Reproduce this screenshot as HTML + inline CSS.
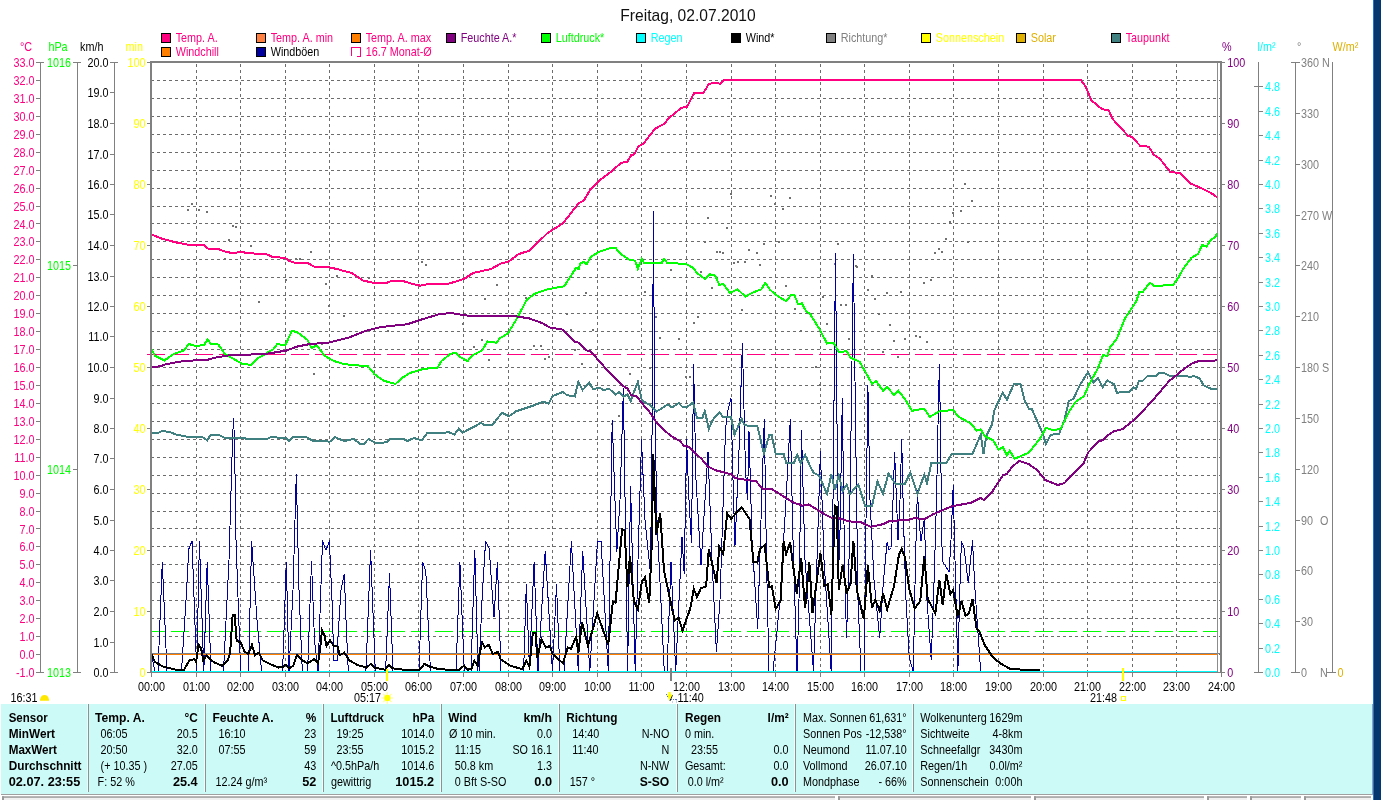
<!DOCTYPE html>
<html><head><meta charset="utf-8"><title>Freitag, 02.07.2010</title>
<style>
html,body{margin:0;padding:0;background:#fff;}
body{width:1381px;height:800px;overflow:hidden;position:relative;font-family:"Liberation Sans",sans-serif;}
svg{position:absolute;left:0;top:0;font-family:"Liberation Sans",sans-serif;will-change:transform;}
#strip{position:absolute;left:1373px;top:0;width:8px;height:800px;background:linear-gradient(90deg,#1c74d4 0,#1c74d4 1px,#04346a 1px,#04346a 2px,#04376d 2.5px,#04376d 8px);}
</style></head><body>
<svg width="1381" height="800" viewBox="0 0 1381 800">
<rect x="0" y="0" width="1381" height="800" fill="#fff"/>
<g shape-rendering="crispEdges" stroke="#6c6c6c" stroke-width="1" fill="none">
<line x1="151" y1="80.5" x2="1220" y2="80.5" stroke-dasharray="3 3"/>
<line x1="151" y1="98.5" x2="1220" y2="98.5" stroke-dasharray="3 3"/>
<line x1="151" y1="116.5" x2="1220" y2="116.5" stroke-dasharray="3 3"/>
<line x1="151" y1="134.5" x2="1220" y2="134.5" stroke-dasharray="3 3"/>
<line x1="151" y1="152.5" x2="1220" y2="152.5" stroke-dasharray="3 3"/>
<line x1="151" y1="170.5" x2="1220" y2="170.5" stroke-dasharray="3 3"/>
<line x1="151" y1="188.5" x2="1220" y2="188.5" stroke-dasharray="3 3"/>
<line x1="151" y1="206.5" x2="1220" y2="206.5" stroke-dasharray="3 3"/>
<line x1="151" y1="223.5" x2="1220" y2="223.5" stroke-dasharray="3 3"/>
<line x1="151" y1="241.5" x2="1220" y2="241.5" stroke-dasharray="3 3"/>
<line x1="151" y1="259.5" x2="1220" y2="259.5" stroke-dasharray="3 3"/>
<line x1="151" y1="277.5" x2="1220" y2="277.5" stroke-dasharray="3 3"/>
<line x1="151" y1="295.5" x2="1220" y2="295.5" stroke-dasharray="3 3"/>
<line x1="151" y1="313.5" x2="1220" y2="313.5" stroke-dasharray="3 3"/>
<line x1="151" y1="331.5" x2="1220" y2="331.5" stroke-dasharray="3 3"/>
<line x1="151" y1="349.5" x2="1220" y2="349.5" stroke-dasharray="3 3"/>
<line x1="151" y1="367.5" x2="1220" y2="367.5" stroke-dasharray="3 3"/>
<line x1="151" y1="385.5" x2="1220" y2="385.5" stroke-dasharray="3 3"/>
<line x1="151" y1="403.5" x2="1220" y2="403.5" stroke-dasharray="3 3"/>
<line x1="151" y1="421.5" x2="1220" y2="421.5" stroke-dasharray="3 3"/>
<line x1="151" y1="439.5" x2="1220" y2="439.5" stroke-dasharray="3 3"/>
<line x1="151" y1="457.5" x2="1220" y2="457.5" stroke-dasharray="3 3"/>
<line x1="151" y1="475.5" x2="1220" y2="475.5" stroke-dasharray="3 3"/>
<line x1="151" y1="493.5" x2="1220" y2="493.5" stroke-dasharray="3 3"/>
<line x1="151" y1="511.5" x2="1220" y2="511.5" stroke-dasharray="3 3"/>
<line x1="151" y1="528.5" x2="1220" y2="528.5" stroke-dasharray="3 3"/>
<line x1="151" y1="546.5" x2="1220" y2="546.5" stroke-dasharray="3 3"/>
<line x1="151" y1="564.5" x2="1220" y2="564.5" stroke-dasharray="3 3"/>
<line x1="151" y1="582.5" x2="1220" y2="582.5" stroke-dasharray="3 3"/>
<line x1="151" y1="600.5" x2="1220" y2="600.5" stroke-dasharray="3 3"/>
<line x1="151" y1="618.5" x2="1220" y2="618.5" stroke-dasharray="3 3"/>
<line x1="151" y1="636.5" x2="1220" y2="636.5" stroke-dasharray="3 3"/>
<line x1="151" y1="654.5" x2="1220" y2="654.5" stroke-dasharray="3 3"/>
<line x1="196.5" y1="64" x2="196.5" y2="672" stroke-dasharray="3 3"/>
<line x1="240.5" y1="64" x2="240.5" y2="672" stroke-dasharray="3 3"/>
<line x1="285.5" y1="64" x2="285.5" y2="672" stroke-dasharray="3 3"/>
<line x1="329.5" y1="64" x2="329.5" y2="672" stroke-dasharray="3 3"/>
<line x1="374.5" y1="64" x2="374.5" y2="672" stroke-dasharray="3 3"/>
<line x1="418.5" y1="64" x2="418.5" y2="672" stroke-dasharray="3 3"/>
<line x1="463.5" y1="64" x2="463.5" y2="672" stroke-dasharray="3 3"/>
<line x1="508.5" y1="64" x2="508.5" y2="672" stroke-dasharray="3 3"/>
<line x1="552.5" y1="64" x2="552.5" y2="672" stroke-dasharray="3 3"/>
<line x1="597.5" y1="64" x2="597.5" y2="672" stroke-dasharray="3 3"/>
<line x1="641.5" y1="64" x2="641.5" y2="672" stroke-dasharray="3 3"/>
<line x1="686.5" y1="64" x2="686.5" y2="672" stroke-dasharray="3 3"/>
<line x1="731.5" y1="64" x2="731.5" y2="672" stroke-dasharray="3 3"/>
<line x1="775.5" y1="64" x2="775.5" y2="672" stroke-dasharray="3 3"/>
<line x1="820.5" y1="64" x2="820.5" y2="672" stroke-dasharray="3 3"/>
<line x1="864.5" y1="64" x2="864.5" y2="672" stroke-dasharray="3 3"/>
<line x1="909.5" y1="64" x2="909.5" y2="672" stroke-dasharray="3 3"/>
<line x1="953.5" y1="64" x2="953.5" y2="672" stroke-dasharray="3 3"/>
<line x1="998.5" y1="64" x2="998.5" y2="672" stroke-dasharray="3 3"/>
<line x1="1043.5" y1="64" x2="1043.5" y2="672" stroke-dasharray="3 3"/>
<line x1="1087.5" y1="64" x2="1087.5" y2="672" stroke-dasharray="3 3"/>
<line x1="1132.5" y1="64" x2="1132.5" y2="672" stroke-dasharray="3 3"/>
<line x1="1176.5" y1="64" x2="1176.5" y2="672" stroke-dasharray="3 3"/>
</g>
<g fill="#707070" shape-rendering="crispEdges">
<rect x="187" y="209" width="2" height="2"/>
<rect x="191" y="203" width="2" height="2"/>
<rect x="198" y="209" width="2" height="2"/>
<rect x="206" y="211" width="2" height="2"/>
<rect x="232" y="225" width="2" height="2"/>
<rect x="235" y="226" width="2" height="2"/>
<rect x="228" y="239" width="2" height="2"/>
<rect x="250" y="245" width="2" height="2"/>
<rect x="224" y="258" width="2" height="2"/>
<rect x="310" y="251" width="2" height="2"/>
<rect x="295" y="258" width="2" height="2"/>
<rect x="299" y="258" width="2" height="2"/>
<rect x="289" y="259" width="2" height="2"/>
<rect x="421" y="261" width="2" height="2"/>
<rect x="425" y="264" width="2" height="2"/>
<rect x="285" y="279" width="2" height="2"/>
<rect x="336" y="275" width="2" height="2"/>
<rect x="325" y="283" width="2" height="2"/>
<rect x="368" y="277" width="2" height="2"/>
<rect x="258" y="301" width="2" height="2"/>
<rect x="328" y="305" width="2" height="2"/>
<rect x="343" y="315" width="2" height="2"/>
<rect x="496" y="284" width="2" height="2"/>
<rect x="484" y="298" width="2" height="2"/>
<rect x="462" y="323" width="2" height="2"/>
<rect x="387" y="330" width="2" height="2"/>
<rect x="481" y="339" width="2" height="2"/>
<rect x="473" y="346" width="2" height="2"/>
<rect x="321" y="343" width="2" height="2"/>
<rect x="488" y="359" width="2" height="2"/>
<rect x="313" y="373" width="2" height="2"/>
<rect x="585" y="292" width="2" height="2"/>
<rect x="525" y="297" width="2" height="2"/>
<rect x="566" y="313" width="2" height="2"/>
<rect x="570" y="329" width="2" height="2"/>
<rect x="592" y="329" width="2" height="2"/>
<rect x="533" y="345" width="2" height="2"/>
<rect x="540" y="345" width="2" height="2"/>
<rect x="574" y="349" width="2" height="2"/>
<rect x="548" y="356" width="2" height="2"/>
<rect x="544" y="358" width="2" height="2"/>
<rect x="581" y="363" width="2" height="2"/>
<rect x="644" y="291" width="2" height="2"/>
<rect x="655" y="316" width="2" height="2"/>
<rect x="659" y="337" width="2" height="2"/>
<rect x="678" y="338" width="2" height="2"/>
<rect x="629" y="373" width="2" height="2"/>
<rect x="649" y="367" width="2" height="2"/>
<rect x="618" y="415" width="2" height="2"/>
<rect x="611" y="423" width="2" height="2"/>
<rect x="670" y="269" width="2" height="2"/>
<rect x="693" y="322" width="2" height="2"/>
<rect x="697" y="316" width="2" height="2"/>
<rect x="700" y="271" width="2" height="2"/>
<rect x="711" y="287" width="2" height="2"/>
<rect x="685" y="376" width="2" height="2"/>
<rect x="689" y="376" width="2" height="2"/>
<rect x="741" y="309" width="2" height="2"/>
<rect x="733" y="262" width="2" height="2"/>
<rect x="737" y="261" width="2" height="2"/>
<rect x="744" y="261" width="2" height="2"/>
<rect x="759" y="264" width="2" height="2"/>
<rect x="785" y="285" width="2" height="2"/>
<rect x="794" y="308" width="2" height="2"/>
<rect x="800" y="330" width="2" height="2"/>
<rect x="822" y="296" width="2" height="2"/>
<rect x="826" y="323" width="2" height="2"/>
<rect x="815" y="366" width="2" height="2"/>
<rect x="819" y="384" width="2" height="2"/>
<rect x="834" y="263" width="2" height="2"/>
<rect x="840" y="304" width="2" height="2"/>
<rect x="845" y="304" width="2" height="2"/>
<rect x="848" y="338" width="2" height="2"/>
<rect x="852" y="285" width="2" height="2"/>
<rect x="707" y="217" width="2" height="2"/>
<rect x="726" y="227" width="2" height="2"/>
<rect x="730" y="193" width="2" height="2"/>
<rect x="704" y="241" width="2" height="2"/>
<rect x="716" y="251" width="2" height="2"/>
<rect x="719" y="251" width="2" height="2"/>
<rect x="722" y="252" width="2" height="2"/>
<rect x="748" y="249" width="2" height="2"/>
<rect x="756" y="252" width="2" height="2"/>
<rect x="763" y="243" width="2" height="2"/>
<rect x="770" y="195" width="2" height="2"/>
<rect x="774" y="203" width="2" height="2"/>
<rect x="778" y="241" width="2" height="2"/>
<rect x="782" y="208" width="2" height="2"/>
<rect x="789" y="197" width="2" height="2"/>
<rect x="837" y="243" width="2" height="2"/>
<rect x="855" y="265" width="2" height="2"/>
<rect x="856" y="266" width="2" height="2"/>
<rect x="964" y="183" width="2" height="2"/>
<rect x="971" y="200" width="2" height="2"/>
<rect x="960" y="210" width="2" height="2"/>
<rect x="952" y="212" width="2" height="2"/>
<rect x="949" y="221" width="2" height="2"/>
<rect x="945" y="238" width="2" height="2"/>
<rect x="938" y="248" width="2" height="2"/>
<rect x="941" y="251" width="2" height="2"/>
<rect x="934" y="252" width="2" height="2"/>
<rect x="967" y="241" width="2" height="2"/>
<rect x="871" y="275" width="2" height="2"/>
<rect x="867" y="289" width="2" height="2"/>
<rect x="874" y="298" width="2" height="2"/>
<rect x="886" y="292" width="2" height="2"/>
<rect x="900" y="291" width="2" height="2"/>
<rect x="878" y="313" width="2" height="2"/>
<rect x="889" y="324" width="2" height="2"/>
<rect x="893" y="340" width="2" height="2"/>
<rect x="904" y="338" width="2" height="2"/>
<rect x="915" y="335" width="2" height="2"/>
<rect x="919" y="336" width="2" height="2"/>
<rect x="926" y="341" width="2" height="2"/>
<rect x="923" y="282" width="2" height="2"/>
<rect x="930" y="279" width="2" height="2"/>
<rect x="882" y="351" width="2" height="2"/>
<rect x="897" y="356" width="2" height="2"/>
<rect x="852" y="285" width="2" height="2"/>
</g>
<g fill="none" stroke-linejoin="round" shape-rendering="crispEdges">
<line x1="152" y1="354.5" x2="1217" y2="354.5" stroke="#ff0080" stroke-width="1" stroke-dasharray="18 6" stroke-dashoffset="5"/>
<line x1="152" y1="631.5" x2="1217" y2="631.5" stroke="#00ff00" stroke-width="1" stroke-dasharray="18 6" stroke-dashoffset="5"/>
<polyline points="151.5,655.0 155.0,671.5 158.0,671.5 162.3,562.0 167.0,671.5 181.5,671.5 186.0,600.0 188.8,549.0 192.0,541.0 196.7,671.5 199.4,541.0 203.8,671.5 207.2,562.0 211.0,671.5 223.5,671.5 229.0,560.0 232.5,440.0 233.5,418.8 234.5,440.0 236.0,540.0 240.6,671.5 248.5,671.5 251.6,541.0 257.0,620.0 261.6,671.5 282.6,671.5 286.3,562.0 289.0,671.5 293.0,590.0 296.3,474.0 299.0,590.0 302.3,671.5 307.6,671.5 311.5,562.0 314.5,640.0 318.0,671.5 320.5,600.0 322.5,541.0 326.0,550.3 329.4,541.0 332.0,600.0 333.8,660.5 337.8,660.5 337.8,640.0 341.0,590.0 344.3,574.0 346.0,620.0 348.3,671.5 365.9,671.5 370.6,550.3 375.3,671.5 385.6,671.5 389.5,574.0 393.0,671.5 419.0,671.5 422.6,562.0 425.8,571.3 428.0,620.0 430.5,671.5 456.0,671.5 459.9,562.0 464.3,671.5 471.0,671.5 474.8,550.3 478.0,671.5 479.0,671.5 482.0,600.0 485.6,541.0 489.3,549.0 492.0,590.0 494.0,617.0 497.4,562.0 499.0,610.0 501.0,671.5 523.6,671.5 526.3,584.4 529.4,667.0 534.1,562.0 538.0,671.5 545.2,551.0 552.5,671.5 556.5,584.4 559.9,671.5 564.0,671.5 571.4,541.0 578.3,671.5 582.7,551.0 589.8,671.5 597.5,541.0 601.0,541.0 608.3,671.5 612.2,420.0 616.8,552.0 620.0,500.0 623.4,388.0 627.6,671.5 630.6,486.0 635.2,671.5 638.0,560.0 641.5,439.8 645.0,520.0 650.5,574.0 652.4,400.0 653.4,211.0 654.6,400.0 657.0,520.0 664.3,671.5 667.0,671.5 671.0,562.0 675.7,671.5 679.0,600.0 682.0,537.0 684.2,574.0 686.6,439.8 689.0,500.0 691.5,543.0 693.6,364.0 696.0,480.0 701.0,565.0 705.0,500.0 708.0,452.0 712.0,560.0 716.4,652.0 720.0,600.0 725.5,430.0 727.5,412.0 731.0,398.0 733.0,480.0 735.0,546.0 739.0,450.0 742.4,343.0 745.5,470.0 747.5,500.0 749.0,431.0 752.0,540.0 757.7,629.0 761.0,520.0 764.3,419.0 766.5,560.0 769.0,671.5 773.0,671.5 780.0,600.0 786.0,500.0 790.3,419.0 793.0,540.0 797.0,671.5 799.0,600.0 801.5,431.0 805.0,560.0 813.5,671.5 817.0,560.0 820.4,451.5 824.0,560.0 831.2,671.5 833.0,500.0 835.5,254.0 837.5,480.0 839.5,560.0 842.3,398.0 844.5,560.0 846.5,638.0 849.0,560.0 851.5,400.0 853.4,254.0 855.5,420.0 858.0,600.0 861.0,671.5 864.0,671.5 866.0,520.0 867.9,385.0 870.0,500.0 874.0,580.0 879.7,638.0 883.5,580.0 887.1,542.0 889.0,550.0 891.0,548.0 893.0,500.0 894.6,452.6 896.5,500.0 898.0,540.0 900.0,500.0 901.7,439.4 903.5,520.0 906.0,600.0 909.2,657.6 913.3,671.5 915.5,560.0 917.4,490.0 919.0,520.0 921.0,541.0 924.3,518.7 927.0,600.0 931.2,660.0 933.5,600.0 936.5,500.0 938.5,400.0 939.4,364.0 940.3,420.0 942.2,561.0 945.5,566.0 949.1,572.0 951.0,540.0 953.2,485.6 955.0,560.0 957.9,671.5 959.5,600.0 961.4,541.0 964.0,548.0 968.3,583.0 970.5,560.0 972.5,541.0 975.0,590.0 980.7,671.5" stroke="#0000a0" stroke-width="1"/>
<line x1="152" y1="653.5" x2="1220" y2="653.5" stroke="#7c8088" stroke-width="1"/>
<line x1="152" y1="654.5" x2="1217" y2="654.5" stroke="#ff8000" stroke-width="1"/>
</g>
<g fill="none" stroke-linejoin="miter" stroke-linecap="butt" shape-rendering="crispEdges">
<polyline points="151.0,433.2 158.0,433.2 161.8,431.0 169.7,432.0 176.3,434.5 186.8,436.6 202.5,437.2 207.2,440.3 211.0,434.5 218.3,434.5 224.8,438.0 236.7,438.5 240.6,437.7 248.5,439.0 266.8,439.0 270.8,437.2 286.5,438.0 288.6,441.0 293.0,437.2 306.2,437.2 312.8,440.6 329.9,441.6 335.0,437.2 344.3,441.0 353.5,439.0 360.0,443.7 364.0,443.7 368.5,439.0 375.8,443.0 386.3,442.4 390.3,439.0 403.4,439.0 407.3,441.0 413.9,438.0 421.8,440.3 427.0,433.2 449.4,432.4 454.6,434.5 458.6,428.8 462.5,432.7 475.6,425.9 480.9,422.7 484.8,425.4 492.7,424.6 501.9,412.8 509.2,416.2 515.8,411.4 531.5,406.2 543.3,401.7 548.6,403.8 552.5,396.0 563.0,392.0 567.0,395.2 574.8,396.5 578.3,382.0 582.7,389.9 589.3,382.8 593.2,389.0 599.8,387.8 603.7,390.4 609.0,388.6 615.5,394.6 619.5,392.0 623.4,396.5 627.4,394.4 630.8,401.2 634.5,390.4 637.9,382.0 641.8,400.4 651.0,405.7 656.3,411.7 668.0,404.4 672.0,407.5 678.6,403.0 682.5,407.0 687.8,406.5 693.0,402.5 697.0,418.3 702.2,418.3 704.8,410.9 708.8,428.8 712.7,420.0 719.3,412.2 723.2,417.0 731.0,417.0 734.5,434.5 741.6,418.8 744.7,425.4 757.3,425.9 763.9,453.7 769.2,435.3 771.8,435.3 775.7,453.7 783.6,453.7 786.2,462.6 794.0,462.6 797.3,454.8 800.7,463.4 805.1,454.8 811.2,468.7 814.0,473.0 819.0,475.5 827.0,493.9 831.4,474.2 834.8,490.0 838.8,475.5 842.7,491.2 846.6,484.7 850.0,493.9 858.3,484.3 865.1,505.7 872.0,505.7 877.5,481.5 883.0,493.9 888.5,473.3 895.4,483.7 905.0,483.7 910.5,472.7 917.4,493.9 924.3,474.6 927.0,482.9 930.0,470.0 931.2,463.0 946.3,463.0 951.8,454.0 972.4,454.0 980.7,434.7 983.5,454.0 986.2,436.1 991.7,425.1 994.5,410.0 1002.7,392.6 1006.9,399.8 1013.7,384.4 1020.6,384.4 1024.7,400.9 1028.9,408.6 1031.6,408.6 1042.6,433.4 1045.9,443.8 1050.9,434.7 1059.1,433.9 1064.6,419.6 1068.8,400.9 1073.4,399.0 1079.8,385.2 1088.0,372.3 1093.5,382.5 1097.7,377.8 1102.6,387.1 1107.3,380.5 1114.2,384.4 1116.9,392.6 1129.3,392.1 1133.4,387.1 1136.2,388.8 1138.9,381.0 1143.0,380.5 1147.2,376.4 1155.4,376.4 1159.6,372.8 1163.7,372.8 1169.2,375.6 1184.3,375.6 1189.8,377.0 1194.0,376.1 1199.5,378.3 1203.6,385.2 1211.9,389.3 1217.5,388.8" stroke="#408080" stroke-width="2"/>
<polyline points="151.0,348.0 155.0,355.8 164.4,360.5 173.6,354.0 184.0,350.5 188.8,344.0 194.6,345.8 203.8,345.3 207.7,339.5 210.4,343.5 218.3,344.5 224.8,354.0 242.0,363.7 251.0,365.0 257.6,358.4 273.4,349.2 277.3,344.0 285.2,345.3 291.8,331.0 297.0,332.0 307.5,340.0 311.5,348.0 316.7,345.3 324.6,355.8 333.8,361.0 344.3,364.2 368.0,366.3 374.5,374.2 383.7,380.7 395.5,384.0 402.0,378.0 410.0,373.0 423.0,369.0 437.5,367.6 441.5,361.0 450.7,353.7 456.0,352.7 459.8,357.0 467.7,361.0 471.7,355.8 482.2,350.5 487.4,341.4 496.6,342.7 500.0,338.2 507.9,333.5 515.8,320.4 526.3,300.7 534.0,294.0 547.3,289.4 564.3,286.2 576.0,267.9 578.8,269.0 580.0,263.4 584.0,262.0 586.7,264.2 590.6,256.9 599.8,251.6 609.0,248.5 615.5,247.7 619.5,252.9 628.7,259.5 635.2,260.8 637.9,268.7 641.8,258.7 644.4,263.4 661.5,263.4 664.1,258.7 666.8,262.6 686.5,264.2 693.0,267.9 697.0,273.0 704.8,279.0 710.0,274.4 715.3,275.7 719.3,285.0 723.2,284.0 729.8,292.8 737.7,289.4 745.5,296.7 752.0,292.8 761.3,289.4 765.2,283.0 770.5,290.2 778.4,296.7 786.2,301.2 791.5,294.6 794.6,295.4 798.0,304.0 802.0,303.3 806.0,311.2 809.9,313.8 819.0,328.2 827.0,343.5 833.5,342.7 838.8,351.9 846.6,351.3 850.6,357.6 859.6,361.8 865.1,371.4 872.0,383.8 876.1,381.0 883.0,390.7 887.1,387.1 894.0,394.8 898.2,390.7 905.0,399.0 911.9,410.8 924.3,408.6 929.8,416.9 939.4,411.3 953.2,410.0 958.7,416.9 971.1,423.7 976.6,430.6 980.7,429.2 984.8,436.1 993.1,440.2 998.6,449.9 1002.7,447.1 1006.9,455.4 1009.6,450.7 1014.6,458.7 1028.9,452.6 1039.9,438.9 1045.9,427.9 1052.3,430.0 1060.5,429.2 1070.1,410.0 1075.6,401.7 1083.9,396.2 1089.4,383.8 1097.7,368.7 1103.2,354.9 1107.3,356.3 1110.0,347.5 1116.9,338.4 1125.2,317.8 1136.2,301.3 1139.5,291.6 1143.0,291.6 1150.0,282.6 1154.0,286.1 1173.3,284.8 1178.8,277.0 1183.0,269.0 1191.2,258.0 1198.0,254.0 1202.2,245.0 1206.4,246.6 1210.5,240.2 1214.6,237.5 1217.5,233.4" stroke="#00ff00" stroke-width="2"/>
<polyline points="151.0,367.0 160.5,366.3 165.7,364.2 184.0,361.0 207.8,359.7 215.6,357.6 228.8,355.3 265.5,354.0 286.5,350.5 297.0,346.6 310.0,344.0 328.5,342.7 349.5,337.4 365.3,331.0 381.0,327.0 407.0,324.3 423.0,319.0 439.0,314.3 450.6,313.0 458.5,314.3 470.3,316.0 500.0,316.0 515.8,316.4 528.9,318.3 542.0,323.0 549.9,327.5 563.0,329.6 574.8,341.9 578.8,342.7 586.7,350.5 590.6,351.3 605.0,367.6 623.4,386.0 627.4,388.6 631.3,395.2 636.6,396.0 641.8,403.0 649.7,412.2 657.6,424.0 670.7,435.9 679.9,441.0 683.8,445.6 689.0,446.9 695.6,453.4 702.2,459.5 707.5,466.3 715.3,470.2 731.1,474.2 735.0,478.1 756.0,481.3 762.6,488.6 771.8,489.1 783.6,496.5 794.1,503.0 799.4,504.4 802.0,505.7 808.6,504.4 825.6,514.9 830.9,517.5 838.8,518.3 849.3,521.4 861.0,522.2 870.6,526.9 883.0,524.2 889.9,520.9 907.8,520.0 914.7,518.1 924.3,519.2 932.6,514.5 951.8,506.3 971.1,502.7 980.7,498.0 984.0,500.0 991.7,492.5 1002.7,475.5 1006.9,473.8 1012.0,467.0 1019.2,460.9 1028.9,464.2 1037.1,470.0 1045.4,480.1 1057.8,485.1 1064.6,482.9 1075.6,471.0 1083.5,463.5 1088.0,452.6 1099.0,441.0 1103.2,440.2 1108.7,434.7 1114.2,431.2 1122.4,429.2 1136.2,418.2 1152.7,400.3 1169.2,381.0 1184.3,368.7 1192.6,363.2 1198.1,361.3 1213.2,361.0 1217.5,359.6" stroke="#800080" stroke-width="2"/>
<polyline points="151.3,654.0 155.0,662.0 163.0,666.6 176.0,669.7 184.0,669.7 189.4,660.5 194.6,659.0 196.0,662.0 198.6,644.8 201.2,648.7 203.3,660.5 206.5,655.3 209.9,659.2 214.3,662.4 222.2,665.8 227.5,660.5 230.0,654.0 232.7,614.6 234.6,614.6 236.7,640.9 240.6,642.2 244.5,651.4 248.5,654.0 251.9,644.8 255.0,655.3 259.0,652.7 262.9,660.5 270.8,664.5 278.7,667.6 282.6,667.0 286.0,664.5 289.2,668.4 293.1,665.8 297.0,655.3 302.3,660.5 307.6,663.2 314.1,659.2 318.0,663.2 320.2,648.7 322.0,630.4 324.6,635.6 326.5,646.0 329.9,640.3 333.8,646.0 337.8,646.6 339.6,655.3 344.3,652.7 349.6,660.5 357.5,665.0 366.7,667.6 370.6,664.0 374.5,667.6 385.0,669.7 389.0,665.0 392.9,668.4 407.4,670.2 419.2,670.2 424.4,664.0 429.7,666.6 438.9,669.2 458.6,670.2 463.8,665.8 467.8,669.7 471.7,668.4 474.3,660.5 477.7,665.8 479.6,654.0 482.2,642.2 484.8,647.4 488.8,644.8 492.7,654.0 498.0,651.9 500.6,659.2 510.5,665.8 522.3,669.2 526.3,660.5 529.4,667.0 532.8,633.0 535.5,633.0 537.3,658.0 541.5,639.5 546.0,647.4 549.9,646.0 552.5,654.0 563.0,663.2 567.8,647.4 570.9,648.7 576.2,636.9 578.3,652.7 582.0,622.5 588.0,646.0 597.2,613.3 608.2,644.8 612.9,601.5 615.5,602.8 622.1,529.3 624.7,530.6 627.4,587.0 630.0,555.6 633.9,601.5 637.9,609.4 641.8,581.8 645.0,577.3 649.2,603.3 651.8,543.7 653.3,454.0 656.3,534.5 660.2,513.6 664.1,571.3 674.6,620.4 678.6,617.8 682.5,630.4 690.4,608.0 693.8,588.9 697.0,597.0 700.9,588.4 706.1,586.3 708.8,549.5 716.6,583.1 719.3,546.4 723.2,553.7 727.2,513.6 731.0,518.8 741.6,507.0 749.5,518.8 753.4,562.0 757.3,562.6 760.0,549.0 764.7,545.0 769.2,587.0 771.8,586.3 775.7,608.8 780.5,601.0 783.6,541.6 786.2,554.2 790.2,542.4 796.7,593.6 801.2,558.2 805.1,608.0 809.3,562.0 812.5,613.3 820.4,553.0 824.3,585.7 827.7,584.4 831.4,614.6 834.8,505.7 836.7,507.0 838.8,589.7 842.7,564.7 846.6,593.6 850.6,583.1 853.3,540.7 856.9,590.2 863.8,619.1 867.9,565.4 872.0,608.1 875.3,599.8 879.7,610.8 883.0,593.0 887.1,609.5 894.0,586.1 899.0,554.4 901.7,548.9 905.0,557.2 909.2,588.8 914.7,608.6 920.2,601.2 924.3,555.8 927.6,598.5 935.3,613.6 939.4,580.0 942.7,605.3 946.3,573.7 950.4,594.3 953.2,590.2 957.9,617.7 961.4,601.2 965.6,615.8 968.9,613.6 972.5,599.0 976.6,628.7 979.3,631.5 984.8,645.2 993.1,657.6 1000.0,663.1 1009.6,668.6 1026.1,670.0 1039.9,670.3" stroke="#000" stroke-width="2"/>
<polyline points="151.3,234.5 163.0,239.0 176.0,242.4 187.0,244.5 204.0,245.0 208.0,248.5 219.6,249.5 225.0,251.6 234.0,253.4 240.6,251.6 248.5,253.4 265.5,253.7 273.4,257.4 285.0,257.6 289.0,260.8 294.4,262.6 307.5,262.8 314.0,266.5 330.0,267.5 339.0,269.5 344.0,271.0 352.0,273.0 362.7,280.5 374.5,283.0 386.0,283.0 391.5,281.0 403.0,281.0 412.5,284.0 420.5,285.7 428.0,284.0 449.0,283.6 464.0,279.0 473.0,273.0 491.0,269.0 502.0,263.0 507.9,262.0 518.4,254.2 528.9,250.8 539.4,241.0 547.3,233.2 563.0,223.3 578.8,203.0 584.0,200.4 589.3,191.2 598.5,181.3 610.3,172.3 620.8,163.1 627.4,161.6 631.3,155.0 634.0,154.5 638.7,146.0 643.1,144.0 655.0,128.8 664.1,123.8 669.4,117.7 681.2,108.0 687.0,106.7 694.3,92.8 703.5,92.8 708.8,84.1 712.7,83.1 720.6,83.6 724.5,79.7 1080.6,79.8 1085.3,86.1 1091.6,100.5 1101.8,109.0 1108.7,110.4 1112.8,119.2 1128.0,135.7 1132.0,137.0 1140.3,145.9 1148.6,146.7 1154.0,155.0 1159.6,158.5 1170.6,172.3 1180.2,172.8 1191.2,183.8 1205.0,189.9 1213.2,194.3 1217.5,197.6" stroke="#ff0080" stroke-width="2"/>
</g>
<g shape-rendering="crispEdges">
<line x1="152.0" y1="671.5" x2="1218.0" y2="671.5" stroke="#00ffff" stroke-width="1"/>
<rect x="150" y="61" width="2" height="612" fill="#808080"/>
<rect x="150" y="61" width="1072" height="2" fill="#808080"/>
<line x1="150.0" y1="672.5" x2="1222.0" y2="672.5" stroke="#808080" stroke-width="1"/>
<line x1="1217.5" y1="63.0" x2="1217.5" y2="672.0" stroke="#8c8c8c" stroke-width="1"/>
<rect x="1220" y="61" width="2" height="612" fill="#808080"/>
<line x1="147.0" y1="354.5" x2="150.0" y2="354.5" stroke="#ff0080" stroke-width="1"/>
<line x1="151.5" y1="672.0" x2="151.5" y2="677.0" stroke="#808080" stroke-width="1"/>
<line x1="196.5" y1="672.0" x2="196.5" y2="677.0" stroke="#808080" stroke-width="1"/>
<line x1="240.5" y1="672.0" x2="240.5" y2="677.0" stroke="#808080" stroke-width="1"/>
<line x1="285.5" y1="672.0" x2="285.5" y2="677.0" stroke="#808080" stroke-width="1"/>
<line x1="329.5" y1="672.0" x2="329.5" y2="677.0" stroke="#808080" stroke-width="1"/>
<line x1="374.5" y1="672.0" x2="374.5" y2="677.0" stroke="#808080" stroke-width="1"/>
<line x1="418.5" y1="672.0" x2="418.5" y2="677.0" stroke="#808080" stroke-width="1"/>
<line x1="463.5" y1="672.0" x2="463.5" y2="677.0" stroke="#808080" stroke-width="1"/>
<line x1="508.5" y1="672.0" x2="508.5" y2="677.0" stroke="#808080" stroke-width="1"/>
<line x1="552.5" y1="672.0" x2="552.5" y2="677.0" stroke="#808080" stroke-width="1"/>
<line x1="597.5" y1="672.0" x2="597.5" y2="677.0" stroke="#808080" stroke-width="1"/>
<line x1="641.5" y1="672.0" x2="641.5" y2="677.0" stroke="#808080" stroke-width="1"/>
<line x1="686.5" y1="672.0" x2="686.5" y2="677.0" stroke="#808080" stroke-width="1"/>
<line x1="731.5" y1="672.0" x2="731.5" y2="677.0" stroke="#808080" stroke-width="1"/>
<line x1="775.5" y1="672.0" x2="775.5" y2="677.0" stroke="#808080" stroke-width="1"/>
<line x1="820.5" y1="672.0" x2="820.5" y2="677.0" stroke="#808080" stroke-width="1"/>
<line x1="864.5" y1="672.0" x2="864.5" y2="677.0" stroke="#808080" stroke-width="1"/>
<line x1="909.5" y1="672.0" x2="909.5" y2="677.0" stroke="#808080" stroke-width="1"/>
<line x1="953.5" y1="672.0" x2="953.5" y2="677.0" stroke="#808080" stroke-width="1"/>
<line x1="998.5" y1="672.0" x2="998.5" y2="677.0" stroke="#808080" stroke-width="1"/>
<line x1="1043.5" y1="672.0" x2="1043.5" y2="677.0" stroke="#808080" stroke-width="1"/>
<line x1="1087.5" y1="672.0" x2="1087.5" y2="677.0" stroke="#808080" stroke-width="1"/>
<line x1="1132.5" y1="672.0" x2="1132.5" y2="677.0" stroke="#808080" stroke-width="1"/>
<line x1="1176.5" y1="672.0" x2="1176.5" y2="677.0" stroke="#808080" stroke-width="1"/>
<line x1="1221.5" y1="672.0" x2="1221.5" y2="677.0" stroke="#808080" stroke-width="1"/>
<line x1="40.5" y1="62.0" x2="40.5" y2="673.0" stroke="#808080" stroke-width="1"/>
<line x1="36.0" y1="62.5" x2="44.0" y2="62.5" stroke="#808080" stroke-width="1"/>
<line x1="36.0" y1="80.5" x2="40.0" y2="80.5" stroke="#808080" stroke-width="1"/>
<line x1="36.0" y1="98.5" x2="40.0" y2="98.5" stroke="#808080" stroke-width="1"/>
<line x1="36.0" y1="116.5" x2="40.0" y2="116.5" stroke="#808080" stroke-width="1"/>
<line x1="36.0" y1="134.5" x2="40.0" y2="134.5" stroke="#808080" stroke-width="1"/>
<line x1="36.0" y1="152.5" x2="40.0" y2="152.5" stroke="#808080" stroke-width="1"/>
<line x1="36.0" y1="170.5" x2="40.0" y2="170.5" stroke="#808080" stroke-width="1"/>
<line x1="36.0" y1="188.5" x2="40.0" y2="188.5" stroke="#808080" stroke-width="1"/>
<line x1="36.0" y1="206.5" x2="40.0" y2="206.5" stroke="#808080" stroke-width="1"/>
<line x1="36.0" y1="223.5" x2="40.0" y2="223.5" stroke="#808080" stroke-width="1"/>
<line x1="36.0" y1="241.5" x2="40.0" y2="241.5" stroke="#808080" stroke-width="1"/>
<line x1="36.0" y1="259.5" x2="40.0" y2="259.5" stroke="#808080" stroke-width="1"/>
<line x1="36.0" y1="277.5" x2="40.0" y2="277.5" stroke="#808080" stroke-width="1"/>
<line x1="36.0" y1="295.5" x2="40.0" y2="295.5" stroke="#808080" stroke-width="1"/>
<line x1="36.0" y1="313.5" x2="40.0" y2="313.5" stroke="#808080" stroke-width="1"/>
<line x1="36.0" y1="331.5" x2="40.0" y2="331.5" stroke="#808080" stroke-width="1"/>
<line x1="36.0" y1="349.5" x2="40.0" y2="349.5" stroke="#808080" stroke-width="1"/>
<line x1="36.0" y1="367.5" x2="40.0" y2="367.5" stroke="#808080" stroke-width="1"/>
<line x1="36.0" y1="385.5" x2="40.0" y2="385.5" stroke="#808080" stroke-width="1"/>
<line x1="36.0" y1="403.5" x2="40.0" y2="403.5" stroke="#808080" stroke-width="1"/>
<line x1="36.0" y1="421.5" x2="40.0" y2="421.5" stroke="#808080" stroke-width="1"/>
<line x1="36.0" y1="439.5" x2="40.0" y2="439.5" stroke="#808080" stroke-width="1"/>
<line x1="36.0" y1="457.5" x2="40.0" y2="457.5" stroke="#808080" stroke-width="1"/>
<line x1="36.0" y1="475.5" x2="40.0" y2="475.5" stroke="#808080" stroke-width="1"/>
<line x1="36.0" y1="493.5" x2="40.0" y2="493.5" stroke="#808080" stroke-width="1"/>
<line x1="36.0" y1="511.5" x2="40.0" y2="511.5" stroke="#808080" stroke-width="1"/>
<line x1="36.0" y1="528.5" x2="40.0" y2="528.5" stroke="#808080" stroke-width="1"/>
<line x1="36.0" y1="546.5" x2="40.0" y2="546.5" stroke="#808080" stroke-width="1"/>
<line x1="36.0" y1="564.5" x2="40.0" y2="564.5" stroke="#808080" stroke-width="1"/>
<line x1="36.0" y1="582.5" x2="40.0" y2="582.5" stroke="#808080" stroke-width="1"/>
<line x1="36.0" y1="600.5" x2="40.0" y2="600.5" stroke="#808080" stroke-width="1"/>
<line x1="36.0" y1="618.5" x2="40.0" y2="618.5" stroke="#808080" stroke-width="1"/>
<line x1="36.0" y1="636.5" x2="40.0" y2="636.5" stroke="#808080" stroke-width="1"/>
<line x1="36.0" y1="654.5" x2="40.0" y2="654.5" stroke="#808080" stroke-width="1"/>
<line x1="36.0" y1="672.5" x2="44.0" y2="672.5" stroke="#808080" stroke-width="1"/>
<line x1="77.5" y1="62.0" x2="77.5" y2="673.0" stroke="#808080" stroke-width="1"/>
<line x1="73.0" y1="62.5" x2="81.0" y2="62.5" stroke="#808080" stroke-width="1"/>
<line x1="73.0" y1="265.5" x2="77.0" y2="265.5" stroke="#808080" stroke-width="1"/>
<line x1="73.0" y1="469.5" x2="77.0" y2="469.5" stroke="#808080" stroke-width="1"/>
<line x1="73.0" y1="672.5" x2="81.0" y2="672.5" stroke="#808080" stroke-width="1"/>
<line x1="114.5" y1="62.0" x2="114.5" y2="673.0" stroke="#808080" stroke-width="1"/>
<line x1="110.0" y1="62.5" x2="118.0" y2="62.5" stroke="#808080" stroke-width="1"/>
<line x1="110.0" y1="92.5" x2="114.0" y2="92.5" stroke="#808080" stroke-width="1"/>
<line x1="110.0" y1="123.5" x2="114.0" y2="123.5" stroke="#808080" stroke-width="1"/>
<line x1="110.0" y1="154.5" x2="114.0" y2="154.5" stroke="#808080" stroke-width="1"/>
<line x1="110.0" y1="184.5" x2="114.0" y2="184.5" stroke="#808080" stroke-width="1"/>
<line x1="110.0" y1="214.5" x2="114.0" y2="214.5" stroke="#808080" stroke-width="1"/>
<line x1="110.0" y1="245.5" x2="114.0" y2="245.5" stroke="#808080" stroke-width="1"/>
<line x1="110.0" y1="276.5" x2="114.0" y2="276.5" stroke="#808080" stroke-width="1"/>
<line x1="110.0" y1="306.5" x2="114.0" y2="306.5" stroke="#808080" stroke-width="1"/>
<line x1="110.0" y1="336.5" x2="114.0" y2="336.5" stroke="#808080" stroke-width="1"/>
<line x1="110.0" y1="367.5" x2="114.0" y2="367.5" stroke="#808080" stroke-width="1"/>
<line x1="110.0" y1="398.5" x2="114.0" y2="398.5" stroke="#808080" stroke-width="1"/>
<line x1="110.0" y1="428.5" x2="114.0" y2="428.5" stroke="#808080" stroke-width="1"/>
<line x1="110.0" y1="458.5" x2="114.0" y2="458.5" stroke="#808080" stroke-width="1"/>
<line x1="110.0" y1="489.5" x2="114.0" y2="489.5" stroke="#808080" stroke-width="1"/>
<line x1="110.0" y1="520.5" x2="114.0" y2="520.5" stroke="#808080" stroke-width="1"/>
<line x1="110.0" y1="550.5" x2="114.0" y2="550.5" stroke="#808080" stroke-width="1"/>
<line x1="110.0" y1="580.5" x2="114.0" y2="580.5" stroke="#808080" stroke-width="1"/>
<line x1="110.0" y1="611.5" x2="114.0" y2="611.5" stroke="#808080" stroke-width="1"/>
<line x1="110.0" y1="642.5" x2="114.0" y2="642.5" stroke="#808080" stroke-width="1"/>
<line x1="110.0" y1="672.5" x2="118.0" y2="672.5" stroke="#808080" stroke-width="1"/>
<line x1="147.0" y1="62.5" x2="150.0" y2="62.5" stroke="#808080" stroke-width="1"/>
<line x1="147.0" y1="123.5" x2="150.0" y2="123.5" stroke="#808080" stroke-width="1"/>
<line x1="147.0" y1="184.5" x2="150.0" y2="184.5" stroke="#808080" stroke-width="1"/>
<line x1="147.0" y1="245.5" x2="150.0" y2="245.5" stroke="#808080" stroke-width="1"/>
<line x1="147.0" y1="306.5" x2="150.0" y2="306.5" stroke="#808080" stroke-width="1"/>
<line x1="147.0" y1="367.5" x2="150.0" y2="367.5" stroke="#808080" stroke-width="1"/>
<line x1="147.0" y1="428.5" x2="150.0" y2="428.5" stroke="#808080" stroke-width="1"/>
<line x1="147.0" y1="489.5" x2="150.0" y2="489.5" stroke="#808080" stroke-width="1"/>
<line x1="147.0" y1="550.5" x2="150.0" y2="550.5" stroke="#808080" stroke-width="1"/>
<line x1="147.0" y1="611.5" x2="150.0" y2="611.5" stroke="#808080" stroke-width="1"/>
<line x1="147.0" y1="672.5" x2="150.0" y2="672.5" stroke="#808080" stroke-width="1"/>
<line x1="1222.0" y1="62.5" x2="1225.0" y2="62.5" stroke="#808080" stroke-width="1"/>
<line x1="1222.0" y1="123.5" x2="1225.0" y2="123.5" stroke="#808080" stroke-width="1"/>
<line x1="1222.0" y1="184.5" x2="1225.0" y2="184.5" stroke="#808080" stroke-width="1"/>
<line x1="1222.0" y1="245.5" x2="1225.0" y2="245.5" stroke="#808080" stroke-width="1"/>
<line x1="1222.0" y1="306.5" x2="1225.0" y2="306.5" stroke="#808080" stroke-width="1"/>
<line x1="1222.0" y1="367.5" x2="1225.0" y2="367.5" stroke="#808080" stroke-width="1"/>
<line x1="1222.0" y1="428.5" x2="1225.0" y2="428.5" stroke="#808080" stroke-width="1"/>
<line x1="1222.0" y1="489.5" x2="1225.0" y2="489.5" stroke="#808080" stroke-width="1"/>
<line x1="1222.0" y1="550.5" x2="1225.0" y2="550.5" stroke="#808080" stroke-width="1"/>
<line x1="1222.0" y1="611.5" x2="1225.0" y2="611.5" stroke="#808080" stroke-width="1"/>
<line x1="1222.0" y1="672.5" x2="1225.0" y2="672.5" stroke="#808080" stroke-width="1"/>
<line x1="1258.5" y1="62.0" x2="1258.5" y2="673.0" stroke="#808080" stroke-width="1"/>
<line x1="1254.0" y1="672.5" x2="1263.0" y2="672.5" stroke="#808080" stroke-width="1"/>
<line x1="1258.0" y1="648.5" x2="1263.0" y2="648.5" stroke="#808080" stroke-width="1"/>
<line x1="1258.0" y1="623.5" x2="1263.0" y2="623.5" stroke="#808080" stroke-width="1"/>
<line x1="1258.0" y1="599.5" x2="1263.0" y2="599.5" stroke="#808080" stroke-width="1"/>
<line x1="1258.0" y1="574.5" x2="1263.0" y2="574.5" stroke="#808080" stroke-width="1"/>
<line x1="1258.0" y1="550.5" x2="1263.0" y2="550.5" stroke="#808080" stroke-width="1"/>
<line x1="1258.0" y1="526.5" x2="1263.0" y2="526.5" stroke="#808080" stroke-width="1"/>
<line x1="1258.0" y1="501.5" x2="1263.0" y2="501.5" stroke="#808080" stroke-width="1"/>
<line x1="1258.0" y1="477.5" x2="1263.0" y2="477.5" stroke="#808080" stroke-width="1"/>
<line x1="1258.0" y1="452.5" x2="1263.0" y2="452.5" stroke="#808080" stroke-width="1"/>
<line x1="1258.0" y1="428.5" x2="1263.0" y2="428.5" stroke="#808080" stroke-width="1"/>
<line x1="1258.0" y1="404.5" x2="1263.0" y2="404.5" stroke="#808080" stroke-width="1"/>
<line x1="1258.0" y1="379.5" x2="1263.0" y2="379.5" stroke="#808080" stroke-width="1"/>
<line x1="1258.0" y1="355.5" x2="1263.0" y2="355.5" stroke="#808080" stroke-width="1"/>
<line x1="1258.0" y1="330.5" x2="1263.0" y2="330.5" stroke="#808080" stroke-width="1"/>
<line x1="1258.0" y1="306.5" x2="1263.0" y2="306.5" stroke="#808080" stroke-width="1"/>
<line x1="1258.0" y1="282.5" x2="1263.0" y2="282.5" stroke="#808080" stroke-width="1"/>
<line x1="1258.0" y1="257.5" x2="1263.0" y2="257.5" stroke="#808080" stroke-width="1"/>
<line x1="1258.0" y1="233.5" x2="1263.0" y2="233.5" stroke="#808080" stroke-width="1"/>
<line x1="1258.0" y1="208.5" x2="1263.0" y2="208.5" stroke="#808080" stroke-width="1"/>
<line x1="1258.0" y1="184.5" x2="1263.0" y2="184.5" stroke="#808080" stroke-width="1"/>
<line x1="1258.0" y1="160.5" x2="1263.0" y2="160.5" stroke="#808080" stroke-width="1"/>
<line x1="1258.0" y1="135.5" x2="1263.0" y2="135.5" stroke="#808080" stroke-width="1"/>
<line x1="1258.0" y1="111.5" x2="1263.0" y2="111.5" stroke="#808080" stroke-width="1"/>
<line x1="1254.0" y1="86.5" x2="1263.0" y2="86.5" stroke="#808080" stroke-width="1"/>
<line x1="1295.5" y1="62.0" x2="1295.5" y2="673.0" stroke="#808080" stroke-width="1"/>
<line x1="1291.0" y1="672.5" x2="1300.0" y2="672.5" stroke="#808080" stroke-width="1"/>
<line x1="1295.0" y1="621.5" x2="1300.0" y2="621.5" stroke="#808080" stroke-width="1"/>
<line x1="1295.0" y1="570.5" x2="1300.0" y2="570.5" stroke="#808080" stroke-width="1"/>
<line x1="1295.0" y1="520.5" x2="1300.0" y2="520.5" stroke="#808080" stroke-width="1"/>
<line x1="1295.0" y1="469.5" x2="1300.0" y2="469.5" stroke="#808080" stroke-width="1"/>
<line x1="1295.0" y1="418.5" x2="1300.0" y2="418.5" stroke="#808080" stroke-width="1"/>
<line x1="1295.0" y1="367.5" x2="1300.0" y2="367.5" stroke="#808080" stroke-width="1"/>
<line x1="1295.0" y1="316.5" x2="1300.0" y2="316.5" stroke="#808080" stroke-width="1"/>
<line x1="1295.0" y1="265.5" x2="1300.0" y2="265.5" stroke="#808080" stroke-width="1"/>
<line x1="1295.0" y1="215.5" x2="1300.0" y2="215.5" stroke="#808080" stroke-width="1"/>
<line x1="1295.0" y1="164.5" x2="1300.0" y2="164.5" stroke="#808080" stroke-width="1"/>
<line x1="1295.0" y1="113.5" x2="1300.0" y2="113.5" stroke="#808080" stroke-width="1"/>
<line x1="1291.0" y1="62.5" x2="1300.0" y2="62.5" stroke="#808080" stroke-width="1"/>
<line x1="1332.5" y1="62.0" x2="1332.5" y2="673.0" stroke="#808080" stroke-width="1"/>
<line x1="1327.0" y1="672.5" x2="1336.0" y2="672.5" stroke="#808080" stroke-width="1"/>
</g>
<g font-size="11">
<text transform="translate(34.5,67.0) scale(0.865,1)" fill="#ff0080" text-anchor="end" font-size="12.5" font-weight="normal">33.0</text>
<text transform="translate(34.5,84.9) scale(0.865,1)" fill="#ff0080" text-anchor="end" font-size="12.5" font-weight="normal">32.0</text>
<text transform="translate(34.5,102.9) scale(0.865,1)" fill="#ff0080" text-anchor="end" font-size="12.5" font-weight="normal">31.0</text>
<text transform="translate(34.5,120.8) scale(0.865,1)" fill="#ff0080" text-anchor="end" font-size="12.5" font-weight="normal">30.0</text>
<text transform="translate(34.5,138.8) scale(0.865,1)" fill="#ff0080" text-anchor="end" font-size="12.5" font-weight="normal">29.0</text>
<text transform="translate(34.5,156.7) scale(0.865,1)" fill="#ff0080" text-anchor="end" font-size="12.5" font-weight="normal">28.0</text>
<text transform="translate(34.5,174.6) scale(0.865,1)" fill="#ff0080" text-anchor="end" font-size="12.5" font-weight="normal">27.0</text>
<text transform="translate(34.5,192.6) scale(0.865,1)" fill="#ff0080" text-anchor="end" font-size="12.5" font-weight="normal">26.0</text>
<text transform="translate(34.5,210.5) scale(0.865,1)" fill="#ff0080" text-anchor="end" font-size="12.5" font-weight="normal">25.0</text>
<text transform="translate(34.5,228.5) scale(0.865,1)" fill="#ff0080" text-anchor="end" font-size="12.5" font-weight="normal">24.0</text>
<text transform="translate(34.5,246.4) scale(0.865,1)" fill="#ff0080" text-anchor="end" font-size="12.5" font-weight="normal">23.0</text>
<text transform="translate(34.5,264.4) scale(0.865,1)" fill="#ff0080" text-anchor="end" font-size="12.5" font-weight="normal">22.0</text>
<text transform="translate(34.5,282.3) scale(0.865,1)" fill="#ff0080" text-anchor="end" font-size="12.5" font-weight="normal">21.0</text>
<text transform="translate(34.5,300.2) scale(0.865,1)" fill="#ff0080" text-anchor="end" font-size="12.5" font-weight="normal">20.0</text>
<text transform="translate(34.5,318.2) scale(0.865,1)" fill="#ff0080" text-anchor="end" font-size="12.5" font-weight="normal">19.0</text>
<text transform="translate(34.5,336.1) scale(0.865,1)" fill="#ff0080" text-anchor="end" font-size="12.5" font-weight="normal">18.0</text>
<text transform="translate(34.5,354.1) scale(0.865,1)" fill="#ff0080" text-anchor="end" font-size="12.5" font-weight="normal">17.0</text>
<text transform="translate(34.5,372.0) scale(0.865,1)" fill="#ff0080" text-anchor="end" font-size="12.5" font-weight="normal">16.0</text>
<text transform="translate(34.5,389.9) scale(0.865,1)" fill="#ff0080" text-anchor="end" font-size="12.5" font-weight="normal">15.0</text>
<text transform="translate(34.5,407.9) scale(0.865,1)" fill="#ff0080" text-anchor="end" font-size="12.5" font-weight="normal">14.0</text>
<text transform="translate(34.5,425.8) scale(0.865,1)" fill="#ff0080" text-anchor="end" font-size="12.5" font-weight="normal">13.0</text>
<text transform="translate(34.5,443.8) scale(0.865,1)" fill="#ff0080" text-anchor="end" font-size="12.5" font-weight="normal">12.0</text>
<text transform="translate(34.5,461.7) scale(0.865,1)" fill="#ff0080" text-anchor="end" font-size="12.5" font-weight="normal">11.0</text>
<text transform="translate(34.5,479.6) scale(0.865,1)" fill="#ff0080" text-anchor="end" font-size="12.5" font-weight="normal">10.0</text>
<text transform="translate(34.5,497.6) scale(0.865,1)" fill="#ff0080" text-anchor="end" font-size="12.5" font-weight="normal">9.0</text>
<text transform="translate(34.5,515.5) scale(0.865,1)" fill="#ff0080" text-anchor="end" font-size="12.5" font-weight="normal">8.0</text>
<text transform="translate(34.5,533.5) scale(0.865,1)" fill="#ff0080" text-anchor="end" font-size="12.5" font-weight="normal">7.0</text>
<text transform="translate(34.5,551.4) scale(0.865,1)" fill="#ff0080" text-anchor="end" font-size="12.5" font-weight="normal">6.0</text>
<text transform="translate(34.5,569.4) scale(0.865,1)" fill="#ff0080" text-anchor="end" font-size="12.5" font-weight="normal">5.0</text>
<text transform="translate(34.5,587.3) scale(0.865,1)" fill="#ff0080" text-anchor="end" font-size="12.5" font-weight="normal">4.0</text>
<text transform="translate(34.5,605.2) scale(0.865,1)" fill="#ff0080" text-anchor="end" font-size="12.5" font-weight="normal">3.0</text>
<text transform="translate(34.5,623.2) scale(0.865,1)" fill="#ff0080" text-anchor="end" font-size="12.5" font-weight="normal">2.0</text>
<text transform="translate(34.5,641.1) scale(0.865,1)" fill="#ff0080" text-anchor="end" font-size="12.5" font-weight="normal">1.0</text>
<text transform="translate(34.5,659.1) scale(0.865,1)" fill="#ff0080" text-anchor="end" font-size="12.5" font-weight="normal">0.0</text>
<text transform="translate(34.5,677.0) scale(0.865,1)" fill="#ff0080" text-anchor="end" font-size="12.5" font-weight="normal">-1.0</text>
<text transform="translate(71.0,67.0) scale(0.865,1)" fill="#00ff00" text-anchor="end" font-size="12.5" font-weight="normal">1016</text>
<text transform="translate(71.0,270.3) scale(0.865,1)" fill="#00ff00" text-anchor="end" font-size="12.5" font-weight="normal">1015</text>
<text transform="translate(71.0,473.7) scale(0.865,1)" fill="#00ff00" text-anchor="end" font-size="12.5" font-weight="normal">1014</text>
<text transform="translate(71.0,677.0) scale(0.865,1)" fill="#00ff00" text-anchor="end" font-size="12.5" font-weight="normal">1013</text>
<text transform="translate(108.5,67.0) scale(0.865,1)" fill="#000" text-anchor="end" font-size="12.5" font-weight="normal">20.0</text>
<text transform="translate(108.5,97.0) scale(0.865,1)" fill="#000" text-anchor="end" font-size="12.5" font-weight="normal">19.0</text>
<text transform="translate(108.5,128.0) scale(0.865,1)" fill="#000" text-anchor="end" font-size="12.5" font-weight="normal">18.0</text>
<text transform="translate(108.5,159.0) scale(0.865,1)" fill="#000" text-anchor="end" font-size="12.5" font-weight="normal">17.0</text>
<text transform="translate(108.5,189.0) scale(0.865,1)" fill="#000" text-anchor="end" font-size="12.5" font-weight="normal">16.0</text>
<text transform="translate(108.5,219.0) scale(0.865,1)" fill="#000" text-anchor="end" font-size="12.5" font-weight="normal">15.0</text>
<text transform="translate(108.5,250.0) scale(0.865,1)" fill="#000" text-anchor="end" font-size="12.5" font-weight="normal">14.0</text>
<text transform="translate(108.5,281.0) scale(0.865,1)" fill="#000" text-anchor="end" font-size="12.5" font-weight="normal">13.0</text>
<text transform="translate(108.5,311.0) scale(0.865,1)" fill="#000" text-anchor="end" font-size="12.5" font-weight="normal">12.0</text>
<text transform="translate(108.5,341.0) scale(0.865,1)" fill="#000" text-anchor="end" font-size="12.5" font-weight="normal">11.0</text>
<text transform="translate(108.5,372.0) scale(0.865,1)" fill="#000" text-anchor="end" font-size="12.5" font-weight="normal">10.0</text>
<text transform="translate(108.5,403.0) scale(0.865,1)" fill="#000" text-anchor="end" font-size="12.5" font-weight="normal">9.0</text>
<text transform="translate(108.5,433.0) scale(0.865,1)" fill="#000" text-anchor="end" font-size="12.5" font-weight="normal">8.0</text>
<text transform="translate(108.5,463.0) scale(0.865,1)" fill="#000" text-anchor="end" font-size="12.5" font-weight="normal">7.0</text>
<text transform="translate(108.5,494.0) scale(0.865,1)" fill="#000" text-anchor="end" font-size="12.5" font-weight="normal">6.0</text>
<text transform="translate(108.5,525.0) scale(0.865,1)" fill="#000" text-anchor="end" font-size="12.5" font-weight="normal">5.0</text>
<text transform="translate(108.5,555.0) scale(0.865,1)" fill="#000" text-anchor="end" font-size="12.5" font-weight="normal">4.0</text>
<text transform="translate(108.5,585.0) scale(0.865,1)" fill="#000" text-anchor="end" font-size="12.5" font-weight="normal">3.0</text>
<text transform="translate(108.5,616.0) scale(0.865,1)" fill="#000" text-anchor="end" font-size="12.5" font-weight="normal">2.0</text>
<text transform="translate(108.5,647.0) scale(0.865,1)" fill="#000" text-anchor="end" font-size="12.5" font-weight="normal">1.0</text>
<text transform="translate(108.5,677.0) scale(0.865,1)" fill="#000" text-anchor="end" font-size="12.5" font-weight="normal">0.0</text>
<text transform="translate(145.5,67.0) scale(0.865,1)" fill="#ffff00" text-anchor="end" font-size="12.5" font-weight="normal">100</text>
<text transform="translate(1227.3,67.0) scale(0.865,1)" fill="#800080" text-anchor="start" font-size="12.5" font-weight="normal">100</text>
<text transform="translate(145.5,128.0) scale(0.865,1)" fill="#ffff00" text-anchor="end" font-size="12.5" font-weight="normal">90</text>
<text transform="translate(1227.3,128.0) scale(0.865,1)" fill="#800080" text-anchor="start" font-size="12.5" font-weight="normal">90</text>
<text transform="translate(145.5,189.0) scale(0.865,1)" fill="#ffff00" text-anchor="end" font-size="12.5" font-weight="normal">80</text>
<text transform="translate(1227.3,189.0) scale(0.865,1)" fill="#800080" text-anchor="start" font-size="12.5" font-weight="normal">80</text>
<text transform="translate(145.5,250.0) scale(0.865,1)" fill="#ffff00" text-anchor="end" font-size="12.5" font-weight="normal">70</text>
<text transform="translate(1227.3,250.0) scale(0.865,1)" fill="#800080" text-anchor="start" font-size="12.5" font-weight="normal">70</text>
<text transform="translate(145.5,311.0) scale(0.865,1)" fill="#ffff00" text-anchor="end" font-size="12.5" font-weight="normal">60</text>
<text transform="translate(1227.3,311.0) scale(0.865,1)" fill="#800080" text-anchor="start" font-size="12.5" font-weight="normal">60</text>
<text transform="translate(145.5,372.0) scale(0.865,1)" fill="#ffff00" text-anchor="end" font-size="12.5" font-weight="normal">50</text>
<text transform="translate(1227.3,372.0) scale(0.865,1)" fill="#800080" text-anchor="start" font-size="12.5" font-weight="normal">50</text>
<text transform="translate(145.5,433.0) scale(0.865,1)" fill="#ffff00" text-anchor="end" font-size="12.5" font-weight="normal">40</text>
<text transform="translate(1227.3,433.0) scale(0.865,1)" fill="#800080" text-anchor="start" font-size="12.5" font-weight="normal">40</text>
<text transform="translate(145.5,494.0) scale(0.865,1)" fill="#ffff00" text-anchor="end" font-size="12.5" font-weight="normal">30</text>
<text transform="translate(1227.3,494.0) scale(0.865,1)" fill="#800080" text-anchor="start" font-size="12.5" font-weight="normal">30</text>
<text transform="translate(145.5,555.0) scale(0.865,1)" fill="#ffff00" text-anchor="end" font-size="12.5" font-weight="normal">20</text>
<text transform="translate(1227.3,555.0) scale(0.865,1)" fill="#800080" text-anchor="start" font-size="12.5" font-weight="normal">20</text>
<text transform="translate(145.5,616.0) scale(0.865,1)" fill="#ffff00" text-anchor="end" font-size="12.5" font-weight="normal">10</text>
<text transform="translate(1227.3,616.0) scale(0.865,1)" fill="#800080" text-anchor="start" font-size="12.5" font-weight="normal">10</text>
<text transform="translate(145.5,677.0) scale(0.865,1)" fill="#ffff00" text-anchor="end" font-size="12.5" font-weight="normal">0</text>
<text transform="translate(1227.3,677.0) scale(0.865,1)" fill="#800080" text-anchor="start" font-size="12.5" font-weight="normal">0</text>
<text transform="translate(1265.0,677.0) scale(0.865,1)" fill="#00ffff" text-anchor="start" font-size="12.5" font-weight="normal">0.0</text>
<text transform="translate(1265.0,652.6) scale(0.865,1)" fill="#00ffff" text-anchor="start" font-size="12.5" font-weight="normal">0.2</text>
<text transform="translate(1265.0,628.2) scale(0.865,1)" fill="#00ffff" text-anchor="start" font-size="12.5" font-weight="normal">0.4</text>
<text transform="translate(1265.0,603.8) scale(0.865,1)" fill="#00ffff" text-anchor="start" font-size="12.5" font-weight="normal">0.6</text>
<text transform="translate(1265.0,579.4) scale(0.865,1)" fill="#00ffff" text-anchor="start" font-size="12.5" font-weight="normal">0.8</text>
<text transform="translate(1265.0,555.0) scale(0.865,1)" fill="#00ffff" text-anchor="start" font-size="12.5" font-weight="normal">1.0</text>
<text transform="translate(1265.0,530.6) scale(0.865,1)" fill="#00ffff" text-anchor="start" font-size="12.5" font-weight="normal">1.2</text>
<text transform="translate(1265.0,506.2) scale(0.865,1)" fill="#00ffff" text-anchor="start" font-size="12.5" font-weight="normal">1.4</text>
<text transform="translate(1265.0,481.8) scale(0.865,1)" fill="#00ffff" text-anchor="start" font-size="12.5" font-weight="normal">1.6</text>
<text transform="translate(1265.0,457.4) scale(0.865,1)" fill="#00ffff" text-anchor="start" font-size="12.5" font-weight="normal">1.8</text>
<text transform="translate(1265.0,433.0) scale(0.865,1)" fill="#00ffff" text-anchor="start" font-size="12.5" font-weight="normal">2.0</text>
<text transform="translate(1265.0,408.6) scale(0.865,1)" fill="#00ffff" text-anchor="start" font-size="12.5" font-weight="normal">2.2</text>
<text transform="translate(1265.0,384.2) scale(0.865,1)" fill="#00ffff" text-anchor="start" font-size="12.5" font-weight="normal">2.4</text>
<text transform="translate(1265.0,359.8) scale(0.865,1)" fill="#00ffff" text-anchor="start" font-size="12.5" font-weight="normal">2.6</text>
<text transform="translate(1265.0,335.4) scale(0.865,1)" fill="#00ffff" text-anchor="start" font-size="12.5" font-weight="normal">2.8</text>
<text transform="translate(1265.0,311.0) scale(0.865,1)" fill="#00ffff" text-anchor="start" font-size="12.5" font-weight="normal">3.0</text>
<text transform="translate(1265.0,286.6) scale(0.865,1)" fill="#00ffff" text-anchor="start" font-size="12.5" font-weight="normal">3.2</text>
<text transform="translate(1265.0,262.2) scale(0.865,1)" fill="#00ffff" text-anchor="start" font-size="12.5" font-weight="normal">3.4</text>
<text transform="translate(1265.0,237.8) scale(0.865,1)" fill="#00ffff" text-anchor="start" font-size="12.5" font-weight="normal">3.6</text>
<text transform="translate(1265.0,213.4) scale(0.865,1)" fill="#00ffff" text-anchor="start" font-size="12.5" font-weight="normal">3.8</text>
<text transform="translate(1265.0,189.0) scale(0.865,1)" fill="#00ffff" text-anchor="start" font-size="12.5" font-weight="normal">4.0</text>
<text transform="translate(1265.0,164.6) scale(0.865,1)" fill="#00ffff" text-anchor="start" font-size="12.5" font-weight="normal">4.2</text>
<text transform="translate(1265.0,140.2) scale(0.865,1)" fill="#00ffff" text-anchor="start" font-size="12.5" font-weight="normal">4.4</text>
<text transform="translate(1265.0,115.8) scale(0.865,1)" fill="#00ffff" text-anchor="start" font-size="12.5" font-weight="normal">4.6</text>
<text transform="translate(1265.0,91.4) scale(0.865,1)" fill="#00ffff" text-anchor="start" font-size="12.5" font-weight="normal">4.8</text>
<text transform="translate(1301.0,677.0) scale(0.865,1)" fill="#808080" text-anchor="start" font-size="12.5" font-weight="normal">0</text>
<text transform="translate(1320.0,677.0) scale(0.865,1)" fill="#808080" text-anchor="start" font-size="12.5" font-weight="normal">N</text>
<text transform="translate(1301.0,626.2) scale(0.865,1)" fill="#808080" text-anchor="start" font-size="12.5" font-weight="normal">30</text>
<text transform="translate(1301.0,575.3) scale(0.865,1)" fill="#808080" text-anchor="start" font-size="12.5" font-weight="normal">60</text>
<text transform="translate(1301.0,524.5) scale(0.865,1)" fill="#808080" text-anchor="start" font-size="12.5" font-weight="normal">90</text>
<text transform="translate(1320.0,524.5) scale(0.865,1)" fill="#808080" text-anchor="start" font-size="12.5" font-weight="normal">O</text>
<text transform="translate(1301.0,473.7) scale(0.865,1)" fill="#808080" text-anchor="start" font-size="12.5" font-weight="normal">120</text>
<text transform="translate(1301.0,422.8) scale(0.865,1)" fill="#808080" text-anchor="start" font-size="12.5" font-weight="normal">150</text>
<text transform="translate(1301.0,372.0) scale(0.865,1)" fill="#808080" text-anchor="start" font-size="12.5" font-weight="normal">180 S</text>
<text transform="translate(1301.0,321.2) scale(0.865,1)" fill="#808080" text-anchor="start" font-size="12.5" font-weight="normal">210</text>
<text transform="translate(1301.0,270.3) scale(0.865,1)" fill="#808080" text-anchor="start" font-size="12.5" font-weight="normal">240</text>
<text transform="translate(1301.0,219.5) scale(0.865,1)" fill="#808080" text-anchor="start" font-size="12.5" font-weight="normal">270 W</text>
<text transform="translate(1301.0,168.7) scale(0.865,1)" fill="#808080" text-anchor="start" font-size="12.5" font-weight="normal">300</text>
<text transform="translate(1301.0,117.8) scale(0.865,1)" fill="#808080" text-anchor="start" font-size="12.5" font-weight="normal">330</text>
<text transform="translate(1301.0,67.0) scale(0.865,1)" fill="#808080" text-anchor="start" font-size="12.5" font-weight="normal">360 N</text>
<text transform="translate(1337.5,677.0) scale(0.865,1)" fill="#e0b000" text-anchor="start" font-size="12.5" font-weight="normal">0</text>
<text transform="translate(20.0,51.0) scale(0.865,1)" fill="#ff0080" text-anchor="start" font-size="12.5" font-weight="normal">°C</text>
<text transform="translate(48.4,51.0) scale(0.865,1)" fill="#00ff00" text-anchor="start" font-size="12.5" font-weight="normal">hPa</text>
<text transform="translate(80.0,51.0) scale(0.865,1)" fill="#000" text-anchor="start" font-size="12.5" font-weight="normal">km/h</text>
<text transform="translate(125.5,51.0) scale(0.865,1)" fill="#ffff00" text-anchor="start" font-size="12.5" font-weight="normal">min</text>
<text transform="translate(1222.0,51.0) scale(0.865,1)" fill="#800080" text-anchor="start" font-size="12.5" font-weight="normal">%</text>
<text transform="translate(1257.5,51.0) scale(0.865,1)" fill="#00ffff" text-anchor="start" font-size="12.5" font-weight="normal">l/m²</text>
<text transform="translate(1297.0,51.0) scale(0.865,1)" fill="#808080" text-anchor="start" font-size="12.5" font-weight="normal">°</text>
<text transform="translate(1332.5,51.0) scale(0.865,1)" fill="#e0b000" text-anchor="start" font-size="12.5" font-weight="normal">W/m²</text>
<text transform="translate(151.5,691.0) scale(0.865,1)" fill="#000" text-anchor="middle" font-size="12.5" font-weight="normal">00:00</text>
<text transform="translate(196.5,691.0) scale(0.865,1)" fill="#000" text-anchor="middle" font-size="12.5" font-weight="normal">01:00</text>
<text transform="translate(240.5,691.0) scale(0.865,1)" fill="#000" text-anchor="middle" font-size="12.5" font-weight="normal">02:00</text>
<text transform="translate(285.5,691.0) scale(0.865,1)" fill="#000" text-anchor="middle" font-size="12.5" font-weight="normal">03:00</text>
<text transform="translate(329.5,691.0) scale(0.865,1)" fill="#000" text-anchor="middle" font-size="12.5" font-weight="normal">04:00</text>
<text transform="translate(374.5,691.0) scale(0.865,1)" fill="#000" text-anchor="middle" font-size="12.5" font-weight="normal">05:00</text>
<text transform="translate(418.5,691.0) scale(0.865,1)" fill="#000" text-anchor="middle" font-size="12.5" font-weight="normal">06:00</text>
<text transform="translate(463.5,691.0) scale(0.865,1)" fill="#000" text-anchor="middle" font-size="12.5" font-weight="normal">07:00</text>
<text transform="translate(508.5,691.0) scale(0.865,1)" fill="#000" text-anchor="middle" font-size="12.5" font-weight="normal">08:00</text>
<text transform="translate(552.5,691.0) scale(0.865,1)" fill="#000" text-anchor="middle" font-size="12.5" font-weight="normal">09:00</text>
<text transform="translate(597.5,691.0) scale(0.865,1)" fill="#000" text-anchor="middle" font-size="12.5" font-weight="normal">10:00</text>
<text transform="translate(641.5,691.0) scale(0.865,1)" fill="#000" text-anchor="middle" font-size="12.5" font-weight="normal">11:00</text>
<text transform="translate(686.5,691.0) scale(0.865,1)" fill="#000" text-anchor="middle" font-size="12.5" font-weight="normal">12:00</text>
<text transform="translate(731.5,691.0) scale(0.865,1)" fill="#000" text-anchor="middle" font-size="12.5" font-weight="normal">13:00</text>
<text transform="translate(775.5,691.0) scale(0.865,1)" fill="#000" text-anchor="middle" font-size="12.5" font-weight="normal">14:00</text>
<text transform="translate(820.5,691.0) scale(0.865,1)" fill="#000" text-anchor="middle" font-size="12.5" font-weight="normal">15:00</text>
<text transform="translate(864.5,691.0) scale(0.865,1)" fill="#000" text-anchor="middle" font-size="12.5" font-weight="normal">16:00</text>
<text transform="translate(909.5,691.0) scale(0.865,1)" fill="#000" text-anchor="middle" font-size="12.5" font-weight="normal">17:00</text>
<text transform="translate(953.5,691.0) scale(0.865,1)" fill="#000" text-anchor="middle" font-size="12.5" font-weight="normal">18:00</text>
<text transform="translate(998.5,691.0) scale(0.865,1)" fill="#000" text-anchor="middle" font-size="12.5" font-weight="normal">19:00</text>
<text transform="translate(1043.5,691.0) scale(0.865,1)" fill="#000" text-anchor="middle" font-size="12.5" font-weight="normal">20:00</text>
<text transform="translate(1087.5,691.0) scale(0.865,1)" fill="#000" text-anchor="middle" font-size="12.5" font-weight="normal">21:00</text>
<text transform="translate(1132.5,691.0) scale(0.865,1)" fill="#000" text-anchor="middle" font-size="12.5" font-weight="normal">22:00</text>
<text transform="translate(1176.5,691.0) scale(0.865,1)" fill="#000" text-anchor="middle" font-size="12.5" font-weight="normal">23:00</text>
<text transform="translate(1221.5,691.0) scale(0.865,1)" fill="#000" text-anchor="middle" font-size="12.5" font-weight="normal">24:00</text>
<text transform="translate(10.5,702.0) scale(0.865,1)" fill="#000" text-anchor="start" font-size="12.5" font-weight="normal">16:31</text>
<text transform="translate(354.0,702.0) scale(0.865,1)" fill="#000" text-anchor="start" font-size="12.5" font-weight="normal">05:17</text>
<text transform="translate(677.6,702.0) scale(0.865,1)" fill="#000" text-anchor="start" font-size="12.5" font-weight="normal">11:40</text>
<text transform="translate(1090.0,702.0) scale(0.865,1)" fill="#000" text-anchor="start" font-size="12.5" font-weight="normal">21:48</text>
</g>
<g shape-rendering="crispEdges">
<rect x="386" y="669" width="2" height="12" fill="#ffff00"/>
<rect x="1122" y="668" width="2" height="13" fill="#ffff00"/>
<rect x="670" y="668" width="2" height="13" fill="#808080"/>
<rect x="1121" y="696" width="4" height="4" fill="none" stroke="#ffff00" stroke-width="1"/>
</g>
<path d="M40 700.8 L40 699.3 Q41 695 44.5 695 Q48 695 49 699.3 L49 700.8 Z" fill="#ffe800"/>
<g stroke="#ffff90" stroke-width="1.2">
<line x1="391.0" y1="698.0" x2="393.2" y2="698.0"/>
<line x1="389.9" y1="700.5" x2="391.5" y2="702.1"/>
<line x1="387.4" y1="701.6" x2="387.4" y2="703.8"/>
<line x1="384.9" y1="700.5" x2="383.3" y2="702.1"/>
<line x1="383.8" y1="698.0" x2="381.6" y2="698.0"/>
<line x1="384.9" y1="695.5" x2="383.3" y2="693.9"/>
<line x1="387.4" y1="694.4" x2="387.4" y2="692.2"/>
<line x1="389.9" y1="695.5" x2="391.5" y2="693.9"/>
</g>
<circle cx="387.4" cy="698" r="3.2" fill="#ffff00"/>
<path d="M672.4 695.2 L669.9 701" stroke="#000" stroke-width="1" fill="none"/>
<path d="M668.4 692 H670.7 V694.5 H672.3 L669.5 700.7 L666.8 694.5 H668.4 Z" fill="#ffff00"/>
<g fill="#5068d8" shape-rendering="crispEdges"><rect x="671" y="699" width="1" height="1"/><rect x="673" y="699" width="1" height="1"/><rect x="675" y="699" width="2" height="1"/><rect x="666" y="694" width="1" height="1"/><rect x="667" y="696" width="1" height="1"/></g>
<g fill="#c8d0f0" shape-rendering="crispEdges"><rect x="672" y="701" width="1" height="2"/><rect x="676" y="700" width="1" height="3"/></g>
<text transform="translate(688.0,20.6) scale(0.977,1)" fill="#101010" text-anchor="middle" font-size="16" font-weight="normal">Freitag, 02.07.2010</text>
<g font-size="11">
<rect x="161.5" y="33.5" width="9" height="9" fill="#ff0080" stroke="#000" stroke-width="1" shape-rendering="crispEdges"/>
<text transform="translate(175.7,42.0) scale(0.865,1)" fill="#ff0080" text-anchor="start" font-size="12.5" font-weight="normal">Temp. A.</text>
<rect x="256.5" y="33.5" width="9" height="9" fill="#ff8040" stroke="#000" stroke-width="1" shape-rendering="crispEdges"/>
<text transform="translate(270.7,42.0) scale(0.865,1)" fill="#ff0080" text-anchor="start" font-size="12.5" font-weight="normal">Temp. A. min</text>
<rect x="351.5" y="33.5" width="9" height="9" fill="#ff8000" stroke="#000" stroke-width="1" shape-rendering="crispEdges"/>
<text transform="translate(365.7,42.0) scale(0.865,1)" fill="#ff0080" text-anchor="start" font-size="12.5" font-weight="normal">Temp. A. max</text>
<rect x="446.5" y="33.5" width="9" height="9" fill="#800080" stroke="#000" stroke-width="1" shape-rendering="crispEdges"/>
<text transform="translate(460.7,42.0) scale(0.865,1)" fill="#800080" text-anchor="start" font-size="12.5" font-weight="normal">Feuchte A.*</text>
<rect x="541.5" y="33.5" width="9" height="9" fill="#00ff00" stroke="#000" stroke-width="1" shape-rendering="crispEdges"/>
<text transform="translate(555.7,42.0) scale(0.865,1)" fill="#00ff00" text-anchor="start" font-size="12.5" font-weight="normal">Luftdruck*</text>
<rect x="636.5" y="33.5" width="9" height="9" fill="#00ffff" stroke="#000" stroke-width="1" shape-rendering="crispEdges"/>
<text transform="translate(650.7,42.0) scale(0.865,1)" fill="#00ffff" text-anchor="start" font-size="12.5" font-weight="normal">Regen</text>
<rect x="731.5" y="33.5" width="9" height="9" fill="#000" stroke="#000" stroke-width="1" shape-rendering="crispEdges"/>
<text transform="translate(745.7,42.0) scale(0.865,1)" fill="#000" text-anchor="start" font-size="12.5" font-weight="normal">Wind*</text>
<rect x="826.5" y="33.5" width="9" height="9" fill="#808080" stroke="#000" stroke-width="1" shape-rendering="crispEdges"/>
<text transform="translate(840.7,42.0) scale(0.865,1)" fill="#808080" text-anchor="start" font-size="12.5" font-weight="normal">Richtung*</text>
<rect x="921.5" y="33.5" width="9" height="9" fill="#ffff00" stroke="#000" stroke-width="1" shape-rendering="crispEdges"/>
<text transform="translate(935.7,42.0) scale(0.865,1)" fill="#ffff00" text-anchor="start" font-size="12.5" font-weight="normal">Sonnenschein</text>
<rect x="1016.5" y="33.5" width="9" height="9" fill="#e0b000" stroke="#000" stroke-width="1" shape-rendering="crispEdges"/>
<text transform="translate(1030.7,42.0) scale(0.865,1)" fill="#e0b000" text-anchor="start" font-size="12.5" font-weight="normal">Solar</text>
<rect x="1111.5" y="33.5" width="9" height="9" fill="#408080" stroke="#000" stroke-width="1" shape-rendering="crispEdges"/>
<text transform="translate(1125.7,42.0) scale(0.865,1)" fill="#ff0080" text-anchor="start" font-size="12.5" font-weight="normal">Taupunkt</text>
<rect x="161.5" y="47.5" width="9" height="9" fill="#ff8000" stroke="#000" stroke-width="1" shape-rendering="crispEdges"/>
<text transform="translate(175.7,56.0) scale(0.865,1)" fill="#ff0080" text-anchor="start" font-size="12.5" font-weight="normal">Windchill</text>
<rect x="256.5" y="47.5" width="9" height="9" fill="#0000a0" stroke="#000" stroke-width="1" shape-rendering="crispEdges"/>
<text transform="translate(270.7,56.0) scale(0.865,1)" fill="#000" text-anchor="start" font-size="12.5" font-weight="normal">Windböen</text>
<path d="M351.5 56 V47.5 H360.5 V56.5 H357" fill="none" stroke="#ff0080" stroke-width="1" shape-rendering="crispEdges"/>
<text transform="translate(365.7,56.0) scale(0.865,1)" fill="#ff0080" text-anchor="start" font-size="12.5" font-weight="normal">16.7 Monat-Ø</text>
</g>
<rect x="1" y="704" width="1371" height="90" fill="#ccfaf7"/>
<g>
<text transform="translate(8.7,722.0) scale(0.920,1)" fill="#000" text-anchor="start" font-size="12.5" font-weight="bold">Sensor</text>
<text transform="translate(8.7,738.0) scale(0.945,1)" fill="#000" text-anchor="start" font-size="12.5" font-weight="bold">MinWert</text>
<text transform="translate(8.7,754.0) scale(0.930,1)" fill="#000" text-anchor="start" font-size="12.5" font-weight="bold">MaxWert</text>
<text transform="translate(8.7,770.0) scale(0.945,1)" fill="#000" text-anchor="start" font-size="12.5" font-weight="bold">Durchschnitt</text>
<text transform="translate(8.7,786.0) scale(1.020,1)" fill="#000" text-anchor="start" font-size="12.5" font-weight="bold">02.07. 23:55</text>
<text transform="translate(95.0,722.0) scale(0.970,1)" fill="#000" text-anchor="start" font-size="12.5" font-weight="bold">Temp. A.</text>
<text transform="translate(197.7,722.0) scale(0.945,1)" fill="#000" text-anchor="end" font-size="12.5" font-weight="bold">°C</text>
<text transform="translate(100.6,738.0) scale(0.865,1)" fill="#000" text-anchor="start" font-size="12.5" font-weight="normal">06:05</text>
<text transform="translate(197.7,738.0) scale(0.865,1)" fill="#000" text-anchor="end" font-size="12.5" font-weight="normal">20.5</text>
<text transform="translate(100.6,754.0) scale(0.865,1)" fill="#000" text-anchor="start" font-size="12.5" font-weight="normal">20:50</text>
<text transform="translate(197.7,754.0) scale(0.865,1)" fill="#000" text-anchor="end" font-size="12.5" font-weight="normal">32.0</text>
<text transform="translate(100.6,770.0) scale(0.865,1)" fill="#000" text-anchor="start" font-size="12.5" font-weight="normal">(+ 10.35 )</text>
<text transform="translate(197.7,770.0) scale(0.865,1)" fill="#000" text-anchor="end" font-size="12.5" font-weight="normal">27.05</text>
<text transform="translate(97.6,786.0) scale(0.865,1)" fill="#000" text-anchor="start" font-size="12.5" font-weight="normal">F: 52 %</text>
<text transform="translate(197.7,786.0) scale(1.020,1)" fill="#000" text-anchor="end" font-size="12.5" font-weight="bold">25.4</text>
<text transform="translate(212.4,722.0) scale(0.966,1)" fill="#000" text-anchor="start" font-size="12.5" font-weight="bold">Feuchte A.</text>
<text transform="translate(316.3,722.0) scale(0.945,1)" fill="#000" text-anchor="end" font-size="12.5" font-weight="bold">%</text>
<text transform="translate(218.4,738.0) scale(0.865,1)" fill="#000" text-anchor="start" font-size="12.5" font-weight="normal">16:10</text>
<text transform="translate(316.3,738.0) scale(0.865,1)" fill="#000" text-anchor="end" font-size="12.5" font-weight="normal">23</text>
<text transform="translate(218.4,754.0) scale(0.865,1)" fill="#000" text-anchor="start" font-size="12.5" font-weight="normal">07:55</text>
<text transform="translate(316.3,754.0) scale(0.865,1)" fill="#000" text-anchor="end" font-size="12.5" font-weight="normal">59</text>
<text transform="translate(316.3,770.0) scale(0.865,1)" fill="#000" text-anchor="end" font-size="12.5" font-weight="normal">43</text>
<text transform="translate(215.4,786.0) scale(0.865,1)" fill="#000" text-anchor="start" font-size="12.5" font-weight="normal">12.24 g/m³</text>
<text transform="translate(316.3,786.0) scale(1.020,1)" fill="#000" text-anchor="end" font-size="12.5" font-weight="bold">52</text>
<text transform="translate(330.4,722.0) scale(0.930,1)" fill="#000" text-anchor="start" font-size="12.5" font-weight="bold">Luftdruck</text>
<text transform="translate(434.2,722.0) scale(0.945,1)" fill="#000" text-anchor="end" font-size="12.5" font-weight="bold">hPa</text>
<text transform="translate(336.4,738.0) scale(0.865,1)" fill="#000" text-anchor="start" font-size="12.5" font-weight="normal">19:25</text>
<text transform="translate(434.2,738.0) scale(0.865,1)" fill="#000" text-anchor="end" font-size="12.5" font-weight="normal">1014.0</text>
<text transform="translate(336.4,754.0) scale(0.865,1)" fill="#000" text-anchor="start" font-size="12.5" font-weight="normal">23:55</text>
<text transform="translate(434.2,754.0) scale(0.865,1)" fill="#000" text-anchor="end" font-size="12.5" font-weight="normal">1015.2</text>
<text transform="translate(331.0,770.0) scale(0.865,1)" fill="#000" text-anchor="start" font-size="12.5" font-weight="normal">^0.5hPa/h</text>
<text transform="translate(434.2,770.0) scale(0.865,1)" fill="#000" text-anchor="end" font-size="12.5" font-weight="normal">1014.6</text>
<text transform="translate(331.0,786.0) scale(0.865,1)" fill="#000" text-anchor="start" font-size="12.5" font-weight="normal">gewittrig</text>
<text transform="translate(434.2,786.0) scale(1.020,1)" fill="#000" text-anchor="end" font-size="12.5" font-weight="bold">1015.2</text>
<text transform="translate(448.3,722.0) scale(0.945,1)" fill="#000" text-anchor="start" font-size="12.5" font-weight="bold">Wind</text>
<text transform="translate(552.0,722.0) scale(0.980,1)" fill="#000" text-anchor="end" font-size="12.5" font-weight="bold">km/h</text>
<text transform="translate(449.0,738.0) scale(0.865,1)" fill="#000" text-anchor="start" font-size="12.5" font-weight="normal">Ø 10 min.</text>
<text transform="translate(552.0,738.0) scale(0.865,1)" fill="#000" text-anchor="end" font-size="12.5" font-weight="normal">0.0</text>
<text transform="translate(454.8,754.0) scale(0.865,1)" fill="#000" text-anchor="start" font-size="12.5" font-weight="normal">11:15</text>
<text transform="translate(552.0,754.0) scale(0.865,1)" fill="#000" text-anchor="end" font-size="12.5" font-weight="normal">SO 16.1</text>
<text transform="translate(454.8,770.0) scale(0.865,1)" fill="#000" text-anchor="start" font-size="12.5" font-weight="normal">50.8 km</text>
<text transform="translate(552.0,770.0) scale(0.865,1)" fill="#000" text-anchor="end" font-size="12.5" font-weight="normal">1.3</text>
<text transform="translate(454.8,786.0) scale(0.865,1)" fill="#000" text-anchor="start" font-size="12.5" font-weight="normal">0 Bft S-SO</text>
<text transform="translate(552.0,786.0) scale(1.020,1)" fill="#000" text-anchor="end" font-size="12.5" font-weight="bold">0.0</text>
<text transform="translate(566.3,722.0) scale(0.945,1)" fill="#000" text-anchor="start" font-size="12.5" font-weight="bold">Richtung</text>
<text transform="translate(572.3,738.0) scale(0.865,1)" fill="#000" text-anchor="start" font-size="12.5" font-weight="normal">14:40</text>
<text transform="translate(669.3,738.0) scale(0.865,1)" fill="#000" text-anchor="end" font-size="12.5" font-weight="normal">N-NO</text>
<text transform="translate(572.3,754.0) scale(0.865,1)" fill="#000" text-anchor="start" font-size="12.5" font-weight="normal">11:40</text>
<text transform="translate(669.3,754.0) scale(0.865,1)" fill="#000" text-anchor="end" font-size="12.5" font-weight="normal">N</text>
<text transform="translate(669.3,770.0) scale(0.865,1)" fill="#000" text-anchor="end" font-size="12.5" font-weight="normal">N-NW</text>
<text transform="translate(569.7,786.0) scale(0.865,1)" fill="#000" text-anchor="start" font-size="12.5" font-weight="normal">157 °</text>
<text transform="translate(669.3,786.0) scale(0.970,1)" fill="#000" text-anchor="end" font-size="12.5" font-weight="bold">S-SO</text>
<text transform="translate(684.9,722.0) scale(0.945,1)" fill="#000" text-anchor="start" font-size="12.5" font-weight="bold">Regen</text>
<text transform="translate(788.6,722.0) scale(0.945,1)" fill="#000" text-anchor="end" font-size="12.5" font-weight="bold">l/m²</text>
<text transform="translate(684.9,738.0) scale(0.865,1)" fill="#000" text-anchor="start" font-size="12.5" font-weight="normal">0 min.</text>
<text transform="translate(690.9,754.0) scale(0.865,1)" fill="#000" text-anchor="start" font-size="12.5" font-weight="normal">23:55</text>
<text transform="translate(788.6,754.0) scale(0.865,1)" fill="#000" text-anchor="end" font-size="12.5" font-weight="normal">0.0</text>
<text transform="translate(684.9,770.0) scale(0.865,1)" fill="#000" text-anchor="start" font-size="12.5" font-weight="normal">Gesamt:</text>
<text transform="translate(788.6,770.0) scale(0.865,1)" fill="#000" text-anchor="end" font-size="12.5" font-weight="normal">0.0</text>
<text transform="translate(687.7,786.0) scale(0.865,1)" fill="#000" text-anchor="start" font-size="12.5" font-weight="normal">0.0 l/m²</text>
<text transform="translate(788.6,786.0) scale(1.020,1)" fill="#000" text-anchor="end" font-size="12.5" font-weight="bold">0.0</text>
<text transform="translate(803.0,722.0) scale(0.865,1)" fill="#000" text-anchor="start" font-size="12.5" font-weight="normal">Max. Sonnen</text>
<text transform="translate(906.7,722.0) scale(0.865,1)" fill="#000" text-anchor="end" font-size="12.5" font-weight="normal">61,631°</text>
<text transform="translate(803.0,738.0) scale(0.865,1)" fill="#000" text-anchor="start" font-size="12.5" font-weight="normal">Sonnen Pos</text>
<text transform="translate(906.7,738.0) scale(0.865,1)" fill="#000" text-anchor="end" font-size="12.5" font-weight="normal">-12,538°</text>
<text transform="translate(803.0,754.0) scale(0.865,1)" fill="#000" text-anchor="start" font-size="12.5" font-weight="normal">Neumond</text>
<text transform="translate(906.7,754.0) scale(0.865,1)" fill="#000" text-anchor="end" font-size="12.5" font-weight="normal">11.07.10</text>
<text transform="translate(803.0,770.0) scale(0.865,1)" fill="#000" text-anchor="start" font-size="12.5" font-weight="normal">Vollmond</text>
<text transform="translate(906.7,770.0) scale(0.865,1)" fill="#000" text-anchor="end" font-size="12.5" font-weight="normal">26.07.10</text>
<text transform="translate(803.0,786.0) scale(0.865,1)" fill="#000" text-anchor="start" font-size="12.5" font-weight="normal">Mondphase</text>
<text transform="translate(906.7,786.0) scale(0.865,1)" fill="#000" text-anchor="end" font-size="12.5" font-weight="normal">- 66%</text>
<text transform="translate(920.3,722.0) scale(0.865,1)" fill="#000" text-anchor="start" font-size="12.5" font-weight="normal">Wolkenunterg</text>
<text transform="translate(1022.4,722.0) scale(0.865,1)" fill="#000" text-anchor="end" font-size="12.5" font-weight="normal">1629m</text>
<text transform="translate(920.3,738.0) scale(0.865,1)" fill="#000" text-anchor="start" font-size="12.5" font-weight="normal">Sichtweite</text>
<text transform="translate(1022.4,738.0) scale(0.865,1)" fill="#000" text-anchor="end" font-size="12.5" font-weight="normal">4-8km</text>
<text transform="translate(920.3,754.0) scale(0.865,1)" fill="#000" text-anchor="start" font-size="12.5" font-weight="normal">Schneefallgr</text>
<text transform="translate(1022.4,754.0) scale(0.865,1)" fill="#000" text-anchor="end" font-size="12.5" font-weight="normal">3430m</text>
<text transform="translate(920.3,770.0) scale(0.865,1)" fill="#000" text-anchor="start" font-size="12.5" font-weight="normal">Regen/1h</text>
<text transform="translate(1022.4,770.0) scale(0.865,1)" fill="#000" text-anchor="end" font-size="12.5" font-weight="normal">0.0l/m²</text>
<text transform="translate(920.3,786.0) scale(0.865,1)" fill="#000" text-anchor="start" font-size="12.5" font-weight="normal">Sonnenschein</text>
<text transform="translate(1022.4,786.0) scale(0.865,1)" fill="#000" text-anchor="end" font-size="12.5" font-weight="normal">0:00h</text>
</g>
<g shape-rendering="crispEdges">
<rect x="87" y="704" width="1" height="88" fill="#e8ffff"/>
<rect x="88" y="704" width="1" height="88" fill="#909090"/>
<rect x="204" y="704" width="1" height="88" fill="#e8ffff"/>
<rect x="205" y="704" width="1" height="88" fill="#909090"/>
<rect x="322" y="704" width="1" height="88" fill="#e8ffff"/>
<rect x="323" y="704" width="1" height="88" fill="#909090"/>
<rect x="440" y="704" width="1" height="88" fill="#e8ffff"/>
<rect x="441" y="704" width="1" height="88" fill="#909090"/>
<rect x="558" y="704" width="1" height="88" fill="#e8ffff"/>
<rect x="559" y="704" width="1" height="88" fill="#909090"/>
<rect x="676" y="704" width="1" height="88" fill="#e8ffff"/>
<rect x="677" y="704" width="1" height="88" fill="#909090"/>
<rect x="794" y="704" width="1" height="88" fill="#e8ffff"/>
<rect x="795" y="704" width="1" height="88" fill="#909090"/>
<rect x="912" y="704" width="1" height="88" fill="#e8ffff"/>
<rect x="913" y="704" width="1" height="88" fill="#909090"/>
</g>
</svg>
<svg width="1381" height="800" viewBox="0 0 1381 800" style="pointer-events:none" shape-rendering="crispEdges">
<rect x="0" y="794" width="1373" height="1" fill="#a0a0a0"/>
<rect x="0" y="795" width="1373" height="5" fill="#ffffff"/>
<rect x="1372" y="704" width="1" height="91" fill="#a0a0a0"/>
<rect x="0" y="704" width="1" height="91" fill="#ffffff"/>
</svg><svg width="1381" height="800" viewBox="0 0 1381 800" style="pointer-events:none">
<rect x="2" y="798" width="833" height="2" fill="#f0f0f0"/>
<rect x="2" y="796.3" width="833" height="1.5" fill="#999"/>
<rect x="2" y="796.3" width="2" height="4" fill="#999"/>
<rect x="838" y="798" width="193" height="2" fill="#f0f0f0"/>
<rect x="838" y="796.3" width="193" height="1.5" fill="#999"/>
<rect x="838" y="796.3" width="2" height="4" fill="#999"/>
<rect x="1034" y="798" width="170" height="2" fill="#f0f0f0"/>
<rect x="1034" y="796.3" width="170" height="1.5" fill="#999"/>
<rect x="1034" y="796.3" width="2" height="4" fill="#999"/>
<rect x="1207" y="798" width="40" height="2" fill="#f0f0f0"/>
<rect x="1207" y="796.3" width="40" height="1.5" fill="#999"/>
<rect x="1207" y="796.3" width="2" height="4" fill="#999"/>
<rect x="1250" y="798" width="51" height="2" fill="#f0f0f0"/>
<rect x="1250" y="796.3" width="51" height="1.5" fill="#999"/>
<rect x="1250" y="796.3" width="2" height="4" fill="#999"/>
<rect x="1304" y="798" width="67" height="2" fill="#f0f0f0"/>
<rect x="1304" y="796.3" width="67" height="1.5" fill="#999"/>
<rect x="1304" y="796.3" width="2" height="4" fill="#999"/>
</svg>
<div id="strip"></div>
</body></html>
